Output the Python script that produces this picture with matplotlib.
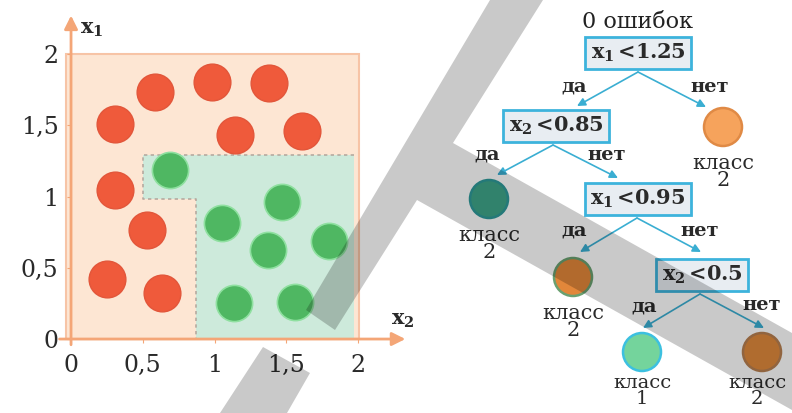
import matplotlib
matplotlib.use("Agg")
import matplotlib.pyplot as plt
from matplotlib.patches import Polygon, Rectangle, Circle
from matplotlib.ticker import FixedLocator, FixedFormatter

plt.rcParams["font.family"] = ["DejaVu Serif"]
plt.rcParams["mathtext.fontset"] = "dejavuserif"

# ---- scatter data: horizontal axis is x2, vertical axis is x1 ----
class2_x2 = [0.585, 0.985, 1.38, 0.307, 1.14, 1.61, 0.307, 0.527, 0.253, 0.636]
class2_x1 = [1.73, 1.805, 1.80, 1.51, 1.43, 1.46, 1.045, 0.765, 0.42, 0.325]
class1_x2 = [0.69, 1.05, 1.468, 1.375, 1.80, 1.138, 1.56]
class1_x1 = [1.186, 0.816, 0.963, 0.625, 0.69, 0.25, 0.26]

# region boundaries of the class-1 area
region_top = 1.29
region_left = 0.5
region_step_y = 0.98
region_step_x = 0.87
region_right = 1.97

tick_values = [0, 0.5, 1, 1.5, 2]
tick_labels = ["0", "0,5", "1", "1,5", "2"]

# ---- decision tree: nodes in figure pixels ----
tree_title = "0 ошибок"
split_nodes = [
    (r"$\mathbf{x_1}\,$<1.25", 638, 53),
    (r"$\mathbf{x_2}\,$<0.85", 556, 126),
    (r"$\mathbf{x_1}\,$<0.95", 638, 199),
    (r"$\mathbf{x_2}\,$<0.5", 702, 275),
]
# (class, circle x, circle y, fill, edge, label x, label y, label size)
leaf_nodes = [
    ("2", 723, 127, "#f6a35c", "#e08a45", 723, 172, 15),
    ("2", 489, 199, "#3fa58a", "#2e9a9a", 489, 244, 15),
    ("2", 573, 277, "#e2873a", "#6aa070", 573, 322, 15),
    ("1", 642, 352, "#74d49c", "#3cc0e0", 642, 391, 14),
    ("2", 762, 352, "#e0893c", "#b88050", 757, 391, 14),
]
edges = [
    ((638, 72), (577, 106), "да", (574, 87)),
    ((638, 72), (706, 107), "нет", (710, 87)),
    ((553, 145), (497, 175), "да", (487, 155)),
    ((553, 145), (618, 178), "нет", (607, 155)),
    ((637, 218), (580, 252), "да", (574, 231)),
    ((637, 218), (701, 252), "нет", (700, 231)),
    ((700, 294), (643, 328), "да", (644, 306)),
    ((700, 294), (764, 328), "нет", (762, 305)),
]

W, H = 792, 413
fig = plt.figure(figsize=(W / 100, H / 100), dpi=100)

# ---------------- left panel: scatter ----------------
ax = fig.add_axes([0, 0, 420 / W, 1])
ax.set_xlim(-0.495, 2.432)
ax.set_ylim(-0.519, 2.379)
for s in ax.spines.values():
    s.set_visible(False)
ax.spines["bottom"].set_position(("data", 0))
ax.spines["left"].set_position(("data", 0))

axis_col = "#f4a677"
ax.add_patch(Rectangle((-0.035, 0), 2.045, 2.0, facecolor="#fde6d3",
                       edgecolor="#f7c4a6", lw=1.5, zorder=0))
region = [(region_left, region_top), (region_right, region_top),
          (region_right, 0), (region_step_x, 0),
          (region_step_x, region_step_y), (region_left, region_step_y)]
ax.add_patch(Polygon(region, closed=True, facecolor="#cdeadb",
                     edgecolor="none", zorder=1))
outline_x = [region_right, region_left, region_left, region_step_x, region_step_x]
outline_y = [region_top, region_top, region_step_y, region_step_y, 0]
ax.plot(outline_x, outline_y, ls=(0, (2, 2)), color="#b5aaa0", lw=1.2, zorder=2)

ax.scatter(class2_x2, class2_x1, s=700, color="#ef5a3b", edgecolor="#e2563a",
           lw=1.0, zorder=3)
ax.scatter(class1_x2, class1_x1, s=680, color="#4fb762", edgecolor="#8fe0a0",
           lw=1.2, zorder=3)

ax.annotate("", xy=(2.33, 0), xytext=(-0.08, 0),
            arrowprops=dict(arrowstyle="-|>", color=axis_col, lw=2,
                            mutation_scale=20, shrinkA=0, shrinkB=0), zorder=2)
ax.annotate("", xy=(0, 2.27), xytext=(0, -0.04),
            arrowprops=dict(arrowstyle="-|>", color=axis_col, lw=2,
                            mutation_scale=20, shrinkA=0, shrinkB=0), zorder=2)

ax.xaxis.set_major_locator(FixedLocator(tick_values))
ax.xaxis.set_major_formatter(FixedFormatter(tick_labels))
ax.yaxis.set_major_locator(FixedLocator(tick_values))
ax.yaxis.set_major_formatter(FixedFormatter(tick_labels))
ax.tick_params(axis="x", length=3, color=axis_col, pad=8, labelsize=17,
               labelcolor="#2a2a2a")
ax.tick_params(axis="y", length=3, color=axis_col, pad=6, labelsize=17,
               labelcolor="#2a2a2a")

ax.text(0.146, 2.17, r"$\mathbf{x_1}$", fontsize=15, ha="center", va="center",
        color="#2a2a2a")
ax.text(2.31, 0.133, r"$\mathbf{x_2}$", fontsize=15, ha="center", va="center",
        color="#2a2a2a")

# ---------------- right panel: decision tree ----------------
tax = fig.add_axes([0, 0, 1, 1])
tax.set_xlim(0, W)
tax.set_ylim(H, 0)
tax.axis("off")

tax.text(638, 22, tree_title, fontsize=16, ha="center", va="center",
         color="#222222")
for txt, x, y in split_nodes:
    tax.text(x, y, txt, fontsize=15, fontweight="bold", ha="center",
             va="center", color="#2a2a2a",
             bbox=dict(boxstyle="square,pad=0.25", fc="#e8edf2",
                       ec="#3db3dc", lw=2))
for (x0, y0), (x1, y1), lab, (lx, ly) in edges:
    tax.annotate("", xy=(x1, y1), xytext=(x0, y0),
                 arrowprops=dict(arrowstyle="-|>", color="#3aaed2", lw=1.2,
                                 mutation_scale=12, shrinkA=0, shrinkB=0))
    tax.text(lx, ly, lab, fontsize=14, fontweight="bold", ha="center",
             va="center", color="#2a2a2a")
for num, x, y, fc, ec, lx, ly, fs in leaf_nodes:
    tax.add_patch(Circle((x, y), 19, facecolor=fc, edgecolor=ec, lw=1.8))
    tax.text(lx, ly, "класс\n" + num, fontsize=fs, ha="center",
             va="center", color="#2a2a2a", linespacing=0.82)

# ---------------- grey watermark ----------------
wax = fig.add_axes([0, 0, 1, 1])
wax.set_xlim(0, W)
wax.set_ylim(H, 0)
wax.axis("off")
k_shape = [(490, 0), (543, 0), (453, 143), (792, 333), (792, 410),
           (417, 200), (335, 330), (306, 310)]
k_foot = [(263, 347), (310, 373), (287, 413), (220, 413)]
for poly in (k_shape, k_foot):
    wax.add_patch(Polygon(poly, closed=True, facecolor="black", alpha=0.21,
                          edgecolor="none"))

fig.savefig("out.png", dpi=100)
